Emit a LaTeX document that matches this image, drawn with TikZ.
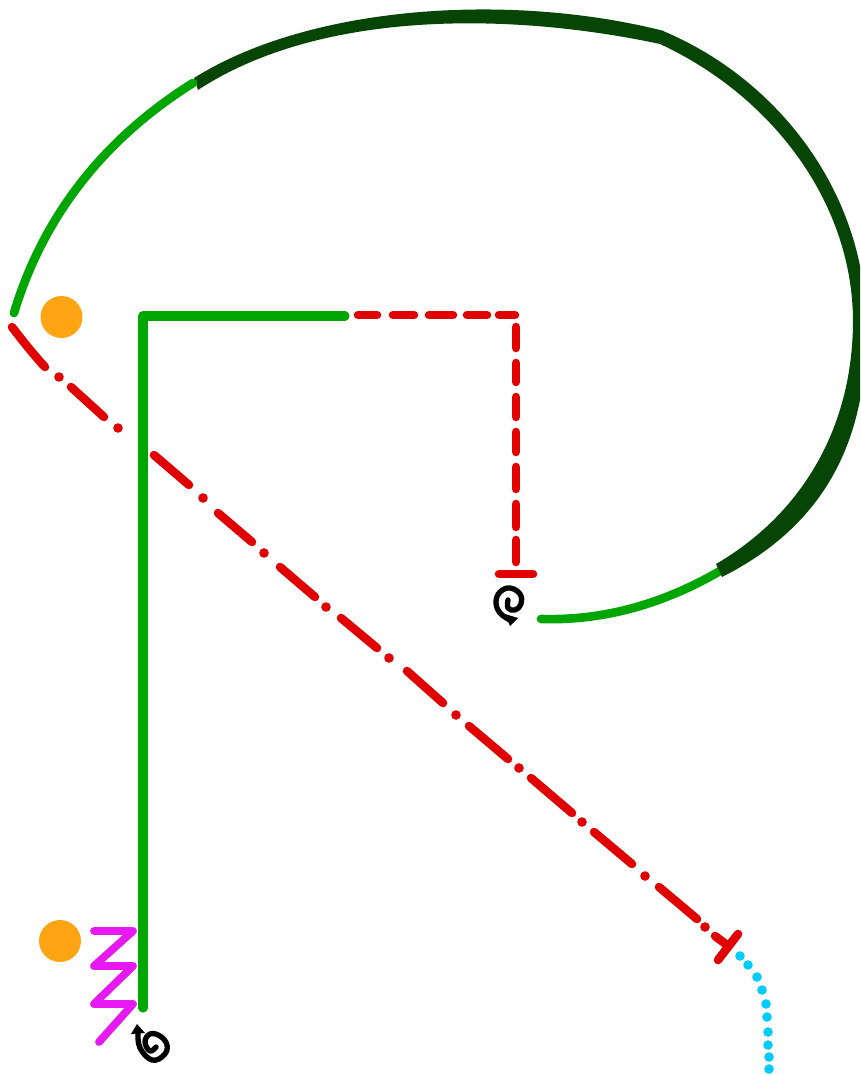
\documentclass[tikz,border=0pt]{standalone}
\definecolor{lgreen}{HTML}{00A600}
\definecolor{dgreen}{HTML}{064506}
\definecolor{rred}{HTML}{E00000}
\definecolor{mag}{HTML}{E619F0}
\definecolor{org}{HTML}{FFA514}
\definecolor{sky}{HTML}{00CCFF}
\tikzset{
  lg/.style={draw=lgreen,line width=6.5pt,line cap=round,line join=round},
  rl/.style={draw=rred,line width=6.4pt,line cap=round,line join=round},
  orb/.style={circle,fill=org,draw=none,minimum size=31.5pt,inner sep=0pt},
  skyd/.style={circle,fill=sky,draw=none,minimum size=7.2pt,inner sep=0pt},
  spir/.style={draw=black,line width=4pt,line cap=round,line join=round}
}
\begin{document}
\begin{tikzpicture}[x=0.75pt,y=-0.75pt]
\useasboundingbox (0,0) rectangle (860,1074);
\node[orb] (o1) at (61.5,317) {};
\node[orb] (o2) at (60,941) {};
% lower light green arc, under the dark band
\draw[lg] (720,571) .. controls (665,603) and (605,621) .. (541,619);
% dark band, tapered
\begin{scope}
\clip (0,0) rectangle (860,1074);
\fill[dgreen] (194,78) .. controls (310,5) and (510,-8) .. (664,31)
  -- (660,44) .. controls (510,12) and (320,10) .. (198,90) -- cycle;
\fill[dgreen] (663,31) .. controls (780,80) and (866,195) .. (866,325)
  .. controls (868,440) and (825,525) .. (722,577)
  -- (716,564) .. controls (800,515) and (853,430) .. (853,320)
  .. controls (852,200) and (770,95) .. (660,44) -- cycle;
\end{scope}
% upper light green arc, over the dark band
\draw[lg] (14,313) .. controls (45,210) and (110,135) .. (193,83);
% green right angle
\draw[lg,line width=6.8pt] (345,316) -- (143,316) -- (143,1008);
% red dashed
\foreach \a/\b in {358/377,393/414,429/453,467/487,499/515}
  \draw[rl] (\a,315) -- (\b,315);
\foreach \a/\b in {327/348,363/382,397/417,432/452,467/489,504/527,540/562}
  \draw[rl] (516,\a) -- (516,\b);
\draw[rl] (499,574) -- (533,574);
% dash dot
\draw[rl] (12,327) .. controls (22,340) and (33,354) .. (45,367);
\draw[rl] (71,387) -- (104,417);
\foreach \ax/\ay/\bx/\by in {154/455/189/485,218/513/252/542,280/567/315/597,341/618/377/648,407/671/443/703,469/726/508/759,531/778/572/813,594/832/632/864,659/887/697/919,715/936/727/945}
  \draw[rl] (\ax,\ay) -- (\bx,\by);
\foreach \x/\y in {59/377,118/428,203/498,264/553,326/607,389/658,456/715,519/768,582/822,645/876,705/927}
  \fill[rred] (\x,\y) circle[radius=4.8];
\draw[rl] (718,960) -- (738,934);
% sky dots
\foreach \i/\p in {1/{740,956},2/{748,965},3/{757,977},4/{762,990},5/{766,1004},6/{767,1017},7/{768,1032},8/{768,1045},9/{769,1057},10/{769,1069}}
  \node[skyd] (s\i) at (\p) {};
% magenta
\draw[draw=mag,line width=5.8pt,line cap=round,line join=round]
  (94,931) -- (133,931) -- (94,966) -- (133,966) -- (94,1004) -- (133,1004) -- (99,1042);
% spirals
\draw[spir] plot[smooth,tension=0.7] coordinates {(508,600) (508,608) (515,610) (521,604) (520,594) (510,588) (500,592) (496,602) (500,613) (510,620)};
\fill (505,614) -- (518,618) -- (510,626) -- cycle;
\draw[spir] plot[smooth,tension=0.7] coordinates {(138,1033) (140,1048) (152,1060) (164,1055) (167,1045) (160,1036) (150,1034) (145,1042) (150,1051) (156,1047)};
\fill (137,1024) -- (145,1033) -- (131,1034) -- cycle;
\end{tikzpicture}
\end{document}
